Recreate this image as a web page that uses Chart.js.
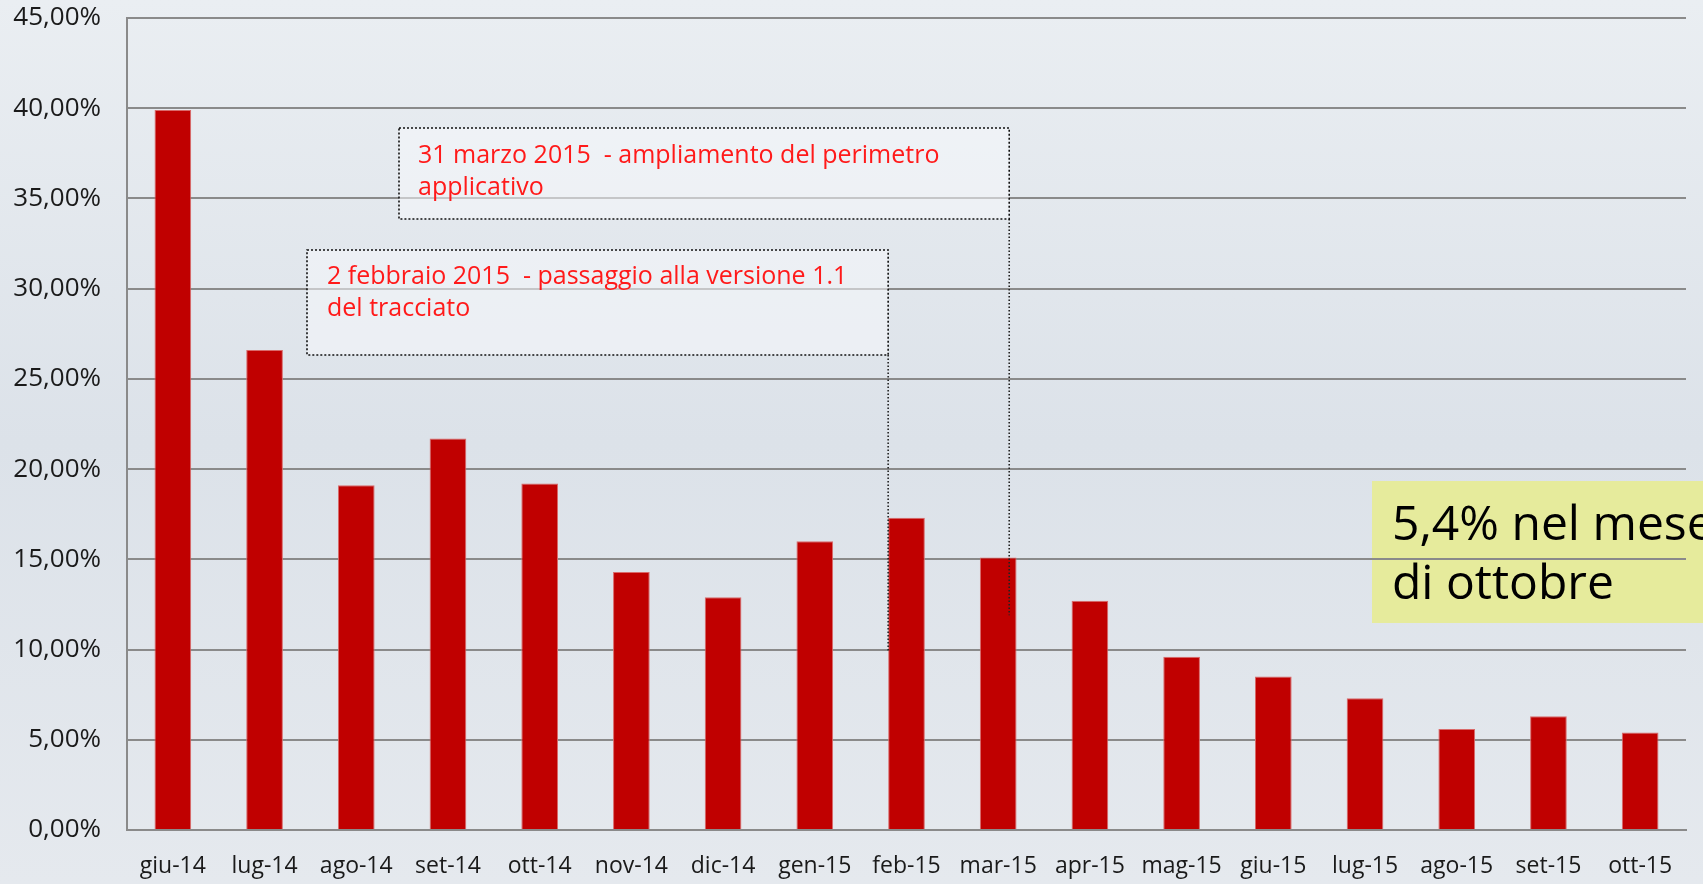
<!DOCTYPE html>
<html>
<head>
<meta charset="utf-8">
<script src="https://cdn.jsdelivr.net/npm/chart.js@4"></script>
<style>
  html, body { margin: 0; padding: 0; background: #e3e8ee; }
  #wrap { width: 1703px; height: 884px; }
</style>
</head>
<body>
<div id="wrap"><canvas id="chart" width="1703" height="884"></canvas></div>
<script>
const months = ['giu-14', 'lug-14', 'ago-14', 'set-14', 'ott-14', 'nov-14', 'dic-14', 'gen-15', 'feb-15',
    'mar-15', 'apr-15', 'mag-15', 'giu-15', 'lug-15', 'ago-15', 'set-15', 'ott-15'];
const percentages = [39.9, 26.6, 19.1, 21.7, 19.2, 14.3, 12.9, 16.0, 17.3, 15.1, 12.7, 9.6, 8.5, 7.3, 5.6, 6.3, 5.4];
const yTicks = [0, 5, 10, 15, 20, 25, 30, 35, 40, 45];

const FONT = '"Open Sans", "Noto Sans", sans-serif';

function dottedBox(ctx, x, y, w, h) {
    ctx.save();
    ctx.fillStyle = 'rgba(246,248,251,0.55)';
    ctx.fillRect(x, y, w, h);
    ctx.strokeStyle = '#111';
    ctx.lineWidth = 1.6;
    ctx.setLineDash([2, 2]);
    ctx.strokeRect(x, y, w, h);
    ctx.restore();
}

const decorations = {
    id: 'decorations',
    beforeDraw(chart) {
        const ctx = chart.ctx;
        const g = ctx.createLinearGradient(0, 0, 0, chart.height);
        g.addColorStop(0, '#eaeef2');
        g.addColorStop(0.5, '#dce2e9');
        g.addColorStop(1, '#e5e9ee');
        ctx.save();
        ctx.fillStyle = g;
        ctx.fillRect(0, 0, chart.width, chart.height);
        // yellow note box (under the grid)
        ctx.fillStyle = '#e6eb9c';
        ctx.fillRect(1372, 481, 340, 142);
        ctx.restore();
    },
    afterDraw(chart) {
        const ctx = chart.ctx;
        const x = chart.scales.x;
        const y = chart.scales.y;
        const half = (x.getPixelForValue(1) - x.getPixelForValue(0)) * 0.2;

        // dotted leader lines
        ctx.save();
        ctx.strokeStyle = '#222';
        ctx.lineWidth = 1.6;
        ctx.setLineDash([1.5, 2]);
        const x1 = x.getPixelForValue(9) + half * 0.6;
        ctx.beginPath();
        ctx.moveTo(x1, 219);
        ctx.lineTo(x1, y.getPixelForValue(11.9));
        ctx.stroke();
        const x2 = x.getPixelForValue(8) - half;
        ctx.beginPath();
        ctx.moveTo(x2, 355);
        ctx.lineTo(x2, y.getPixelForValue(9.9));
        ctx.stroke();
        ctx.restore();

        dottedBox(ctx, 399, 128, x1 - 399, 91);
        dottedBox(ctx, 307, 250, x2 - 307, 105);

        ctx.save();
        ctx.fillStyle = '#ff1a1a';
        ctx.font = '25px ' + FONT;
        ctx.textBaseline = 'middle';
        ctx.fillText('31 marzo 2015  - ampliamento del perimetro', 418, 156);
        ctx.fillText('applicativo', 418, 188);
        ctx.fillText('2 febbraio 2015  - passaggio alla versione 1.1', 327, 277);
        ctx.fillText('del tracciato', 327, 309);

        ctx.fillStyle = '#000';
        ctx.font = '48px ' + FONT;
        ctx.fillText('5,4% nel mese', 1392, 526);
        ctx.fillText('di ottobre', 1392, 585);
        ctx.restore();
    }
};

new Chart(document.getElementById('chart'), {
    type: 'bar',
    data: {
        labels: months,
        datasets: [{
            data: percentages,
            backgroundColor: '#c00000',
            borderColor: '#d96a6a',
            borderWidth: { left: 1, right: 1, top: 1, bottom: 0 },
            barPercentage: 0.4,
            categoryPercentage: 1.0
        }]
    },
    options: {
        responsive: false,
        animation: false,
        layout: { padding: { top: 18, right: 17, left: 0, bottom: 0 } },
        plugins: { legend: { display: false }, tooltip: { enabled: false } },
        scales: {
            x: {
                grid: { display: false, drawTicks: false },
                border: { color: '#8a8a8a', width: 2 },
                ticks: { color: '#1a1a1a', font: { family: FONT, size: 23 }, padding: 23, maxRotation: 0, autoSkip: false },
                afterFit(scale) { scale.height = 54; scale.paddingLeft = 0; scale.paddingRight = 0; }
            },
            y: {
                min: 0,
                max: 45,
                afterBuildTicks(scale) { scale.ticks = yTicks.map(v => ({ value: v })); },
                grid: { color: '#8a8a8a', lineWidth: 2, drawTicks: false },
                border: { color: '#8a8a8a', width: 2 },
                ticks: {
                    color: '#1a1a1a',
                    font: { family: FONT, size: 26 },
                    padding: 26,
                    callback: v => v.toFixed(2).replace('.', ',') + '%'
                },
                afterFit(scale) { scale.width = 127; scale.paddingTop = 0; scale.paddingBottom = 0; }
            }
        }
    },
    plugins: [decorations]
});
</script>
</body>
</html>
